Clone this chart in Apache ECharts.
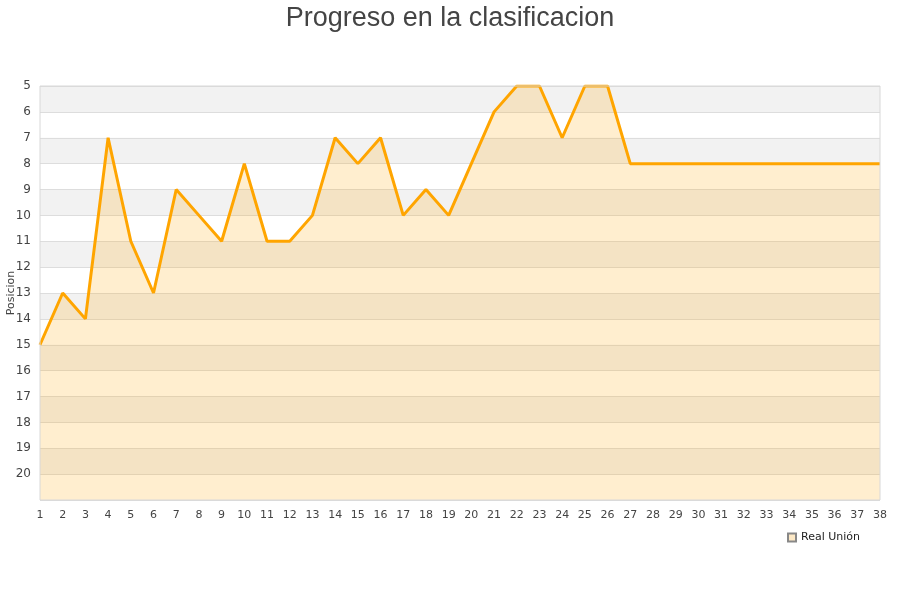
<!DOCTYPE html>
<html>
<head>
<meta charset="utf-8">
<script src="https://cdn.jsdelivr.net/npm/echarts@6/dist/echarts.min.js"></script>
<style>html,body{margin:0;padding:0;background:#fff}#c{width:900px;height:600px}</style>
</head>
<body>
<div id="c"></div>
<script>
var jornadas = ['1','2','3','4','5','6','7','8','9','10','11','12','13','14','15','16','17','18','19','20','21','22','23','24','25','26','27','28','29','30','31','32','33','34','35','36','37','38'];
var posiciones = [15,13,14,7,11,13,9,10,11,8,11,11,10,7,8,7,10,9,10,8,6,5,5,7,5,5,8,8,8,8,8,8,8,8,8,8,8,8];
var equipo = 'Real Unión';
var titulo = 'Progreso en la clasificacion';

var chart = echarts.init(document.getElementById('c'));
chart.setOption({
  animation: false,
  title: {
    text: titulo, left: 'center', top: 0,
    textStyle: {fontFamily: 'Liberation Sans, Arial', fontSize: 27, fontWeight: 'normal', color: '#444'}
  },
  legend: {
    data: [equipo], right: 35, top: 527, itemWidth: 8, itemHeight: 8, icon: 'rect',
    textStyle: {fontFamily: 'DejaVu Sans', fontSize: 11, color: '#222'}
  },
  grid: {left: 40, right: 20, top: 86, bottom: 100, outerBoundsMode: 'none', containLabel: false},
  xAxis: {
    type: 'category', data: jornadas, boundaryGap: false,
    axisLine: {show: false}, axisTick: {show: false},
    axisLabel: {fontFamily: 'DejaVu Sans', fontSize: 11, color: '#444', margin: 10, interval: 0},
    splitLine: {show: false}
  },
  yAxis: {
    type: 'value', inverse: true, min: 5, max: 21, interval: 1,
    name: 'Posicion', nameLocation: 'middle', nameGap: 23, nameMoveOverlap: false,
    nameTextStyle: {fontFamily: 'DejaVu Sans', fontSize: 11, color: '#444'},
    axisLine: {show: false}, axisTick: {show: false},
    axisLabel: {fontFamily: 'DejaVu Sans', fontSize: 12, color: '#444', margin: 9,
      formatter: function (v) { return v === 21 ? '' : v; }},
    splitLine: {show: true, lineStyle: {color: '#dddddd', width: 1}},
    splitArea: {show: true, areaStyle: {color: ['#f2f2f2', '#ffffff']}}
  },
  series: [{
    name: equipo, type: 'line', data: posiciones, symbol: 'none',
    lineStyle: {color: '#ffa500', width: 3},
    itemStyle: {color: '#fde9c6', borderColor: '#888', borderWidth: 1},
    areaStyle: {color: 'rgba(255,165,0,0.19)', opacity: 1, origin: 'end'}
  }],
  graphic: [{
    type: 'rect', shape: {x: 40, y: 86, width: 840, height: 414},
    style: {fill: 'none', stroke: '#d8d8d8', lineWidth: 1}, z: 10, silent: true
  }]
});
</script>
</body>
</html>
